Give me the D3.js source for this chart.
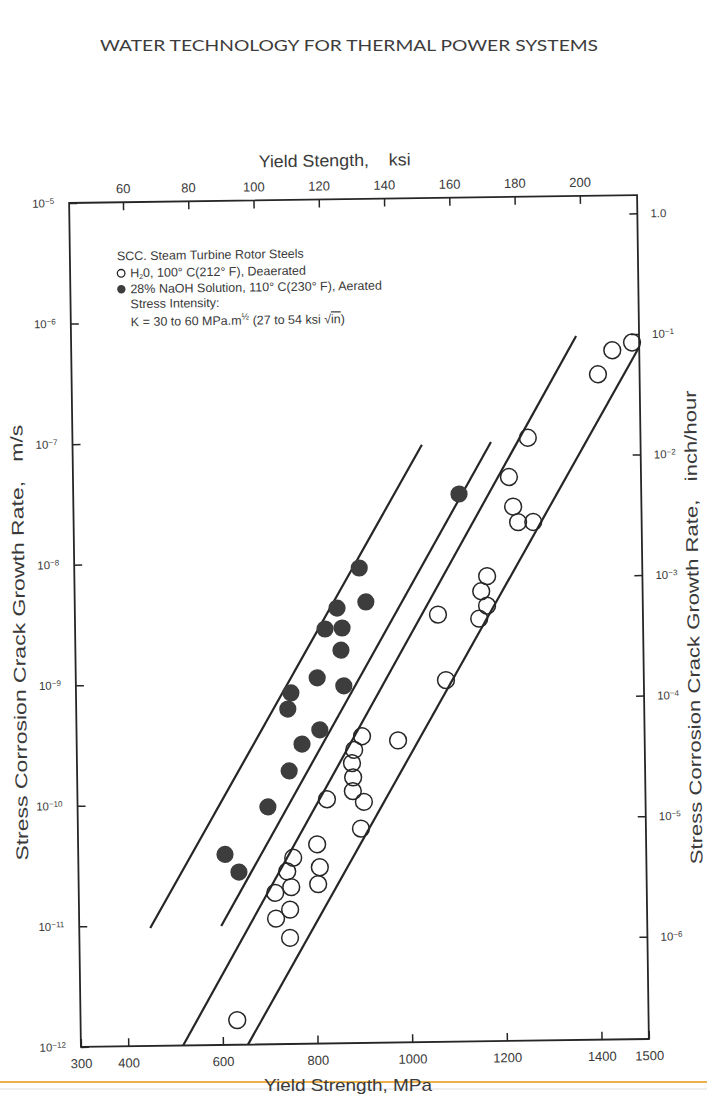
<!DOCTYPE html>
<html>
<head>
<meta charset="utf-8">
<script src="https://cdn.jsdelivr.net/npm/d3@7"></script>
<style>
  body { margin: 0; background: #fff; }
  svg { display: block; }
</style>
</head>
<body>
<svg id="chart" width="707" height="1097"></svg>
<script>
// H2O, 100 C, deaerated (open circles): yield strength MPa / crack growth rate m/s
const h2oStrength = [631, 754, 741, 810, 749, 715, 806, 746, 716, 745, 805, 827, 903, 979, 886, 881, 883, 882, 905, 898,
                     1067, 1082, 1172, 1159, 1171, 1154, 1221, 1229, 1239, 1271, 1262, 1412, 1443, 1485]
const h2oRate = [1.6e-12, 3.5e-11, 2.7e-11, 2.9e-11, 2.0e-11, 1.8e-11, 2.1e-11, 1.3e-11, 1.1e-11, 7.6e-12, 4.5e-11, 1.06e-10,
                 3.5e-10, 3.2e-10, 2.7e-10, 2.1e-10, 1.6e-10, 1.23e-10, 1.0e-10, 6.0e-11,
                 3.5e-9, 1.0e-9, 7.2e-9, 5.4e-9, 4.1e-9, 3.2e-9, 4.75e-8, 2.7e-8, 2.0e-8, 2.0e-8, 1.0e-7, 3.3e-7, 5.2e-7, 6.0e-7]

// 28% NaOH, 110 C, aerated (filled circles)
const naohStrength = [610, 639, 702, 748, 776, 814, 747, 754, 810, 866, 861, 828, 864, 854, 915, 902, 1115]
const naohRate = [3.8e-11, 2.7e-11, 9.3e-11, 1.84e-10, 3.06e-10, 4.0e-10, 6.0e-10, 8.15e-10, 1.08e-9, 9.2e-10,
                  1.82e-9, 2.74e-9, 2.78e-9, 4.07e-9, 4.54e-9, 8.7e-9, 3.48e-8]

// the four band lines, [start, end]
const bandStrength = [[450, 1038], [600, 1184], [516, 1367], [653, 1500]]
const bandRate = [[9.5e-12, 9e-8], [9.7e-12, 9.3e-8], [1e-12, 6.9e-7], [1e-12, 5.5e-7]]

const mpaTicks = [300, 400, 600, 800, 1000, 1200, 1400, 1500]
const ksiTicks = [60, 80, 100, 120, 140, 160, 180, 200]
const rateTicks = [1e-5, 1e-6, 1e-7, 1e-8, 1e-9, 1e-10, 1e-11, 1e-12]
const inchTicks = [1, 1e-1, 1e-2, 1e-3, 1e-4, 1e-5, 1e-6]

const MPA_PER_KSI = 6.895
const INCH_HR_PER_M_S = 141732

const plotL = 75, plotR = 643, plotT = 199, plotB = 1043
const ink = '#262626'
const textCol = '#3a3a3a'

const svg = d3.select('#chart')

// page header
svg.append('text')
    .attr('x', 349).attr('y', 51)
    .attr('text-anchor', 'middle')
    .attr('textLength', 498).attr('lengthAdjust', 'spacingAndGlyphs')
    .style('font', '16px Lato, "DejaVu Sans", sans-serif')
    .attr('fill', '#3c3c3c')
    .text('WATER TECHNOLOGY FOR THERMAL POWER SYSTEMS')

// the scanned figure is a little tilted
const g = svg.append('g').attr('transform', 'rotate(-0.8, 359, 621)')

const x = d3.scaleLinear().domain([300, 1500]).range([plotL, plotR])
const y = d3.scaleLog().domain([1e-5, 1e-12]).range([plotT, plotB])
const xKsi = d3.scaleLinear().domain([300 / MPA_PER_KSI, 1500 / MPA_PER_KSI]).range([plotL, plotR])
const yIn = d3.scaleLog().domain([1e-5 * INCH_HR_PER_M_S, 1e-12 * INCH_HR_PER_M_S]).range([plotT, plotB])

function powLabel(d) {
    const t = d3.select(this)
    if (d === 1) { t.text('1.0'); return }
    const e = Math.round(Math.log10(d))
    t.text('10')
    t.append('tspan').attr('dy', '-0.45em').style('font-size', '0.7em').text('\u2212' + Math.abs(e))
}

function styleAxis(sel, size) {
    sel.select('.domain').remove()
    sel.selectAll('.tick line').attr('stroke', ink).attr('stroke-width', 1.5)
    sel.selectAll('.tick text').attr('fill', textCol)
        .style('font-family', '"Liberation Sans", Arial, sans-serif').style('font-size', size + 'px')
}

const bottomAxis = g.append('g').attr('transform', `translate(0,${plotB})`)
    .call(d3.axisBottom(x).tickValues(mpaTicks).tickSizeInner(-8).tickSizeOuter(0).tickPadding(12).tickFormat(d3.format('d')))
styleAxis(bottomAxis, 13)

const topAxis = g.append('g').attr('transform', `translate(0,${plotT})`)
    .call(d3.axisTop(xKsi).tickValues(ksiTicks).tickSizeInner(-8).tickSizeOuter(0).tickPadding(9).tickFormat(d3.format('d')))
styleAxis(topAxis, 13)

const leftAxis = g.append('g').attr('transform', `translate(${plotL},0)`)
    .call(d3.axisLeft(y).tickValues(rateTicks).tickSizeInner(-8).tickSizeOuter(0).tickPadding(15))
styleAxis(leftAxis, 11.5)
leftAxis.selectAll('.tick text').text(null).each(powLabel)

const rightAxis = g.append('g').attr('transform', `translate(${plotR},0)`)
    .call(d3.axisRight(yIn).tickValues(inchTicks).tickSizeInner(-8).tickSizeOuter(0).tickPadding(13))
styleAxis(rightAxis, 11.5)
rightAxis.selectAll('.tick text').text(null).each(powLabel)

// frame
g.append('rect')
    .attr('x', plotL).attr('y', plotT)
    .attr('width', plotR - plotL).attr('height', plotB - plotT)
    .attr('fill', 'none').attr('stroke', ink).attr('stroke-width', 1.8)

// axis titles
const titleFont = '17px "Liberation Sans", Arial, sans-serif'
g.append('text')
    .attr('transform', 'translate(25,638) rotate(-90)')
    .attr('text-anchor', 'middle')
    .attr('textLength', 436).attr('lengthAdjust', 'spacingAndGlyphs')
    .style('font', titleFont).attr('fill', textCol).attr('xml:space', 'preserve')
    .text('Stress Corrosion Crack Growth Rate,   m/s')
g.append('text')
    .attr('transform', 'translate(699,632) rotate(-90)')
    .attr('text-anchor', 'middle')
    .attr('textLength', 474).attr('lengthAdjust', 'spacingAndGlyphs')
    .style('font', titleFont).attr('fill', textCol).attr('xml:space', 'preserve')
    .text('Stress Corrosion Crack Growth Rate,   inch/hour')
g.append('text')
    .attr('x', 341).attr('y', 166)
    .attr('text-anchor', 'middle')
    .attr('textLength', 152).attr('lengthAdjust', 'spacingAndGlyphs')
    .style('font', titleFont).attr('fill', textCol).attr('xml:space', 'preserve')
    .text('Yield Stength,    ksi')

// band lines
const bands = bandStrength.map((s, i) => s.map((v, j) => [v, bandRate[i][j]]))
const line = d3.line().x(d => x(d[0])).y(d => y(d[1]))
g.append('g').selectAll('path')
    .data(bands)
    .enter().append('path')
    .attr('d', line)
    .attr('fill', 'none').attr('stroke', ink).attr('stroke-width', 2.2)

// points
g.append('g').selectAll('circle')
    .data(naohStrength.map((s, i) => [s, naohRate[i]]))
    .enter().append('circle')
    .attr('cx', d => x(d[0])).attr('cy', d => y(d[1])).attr('r', 8.6)
    .attr('fill', '#3d3d3d')

g.append('g').selectAll('circle')
    .data(h2oStrength.map((s, i) => [s, h2oRate[i]]))
    .enter().append('circle')
    .attr('cx', d => x(d[0])).attr('cy', d => y(d[1])).attr('r', 8.4)
    .attr('fill', 'none').attr('stroke', ink).attr('stroke-width', 1.5)

// legend
const legend = g.append('g').attr('transform', 'translate(122,0)')
    .style('font', '12.5px "Liberation Sans", Arial, sans-serif').attr('fill', textCol)
legend.append('text').attr('x', 0).attr('y', 257).text('SCC. Steam Turbine Rotor Steels')
legend.append('circle').attr('cx', 4).attr('cy', 270).attr('r', 3.8)
    .attr('fill', 'none').attr('stroke', ink).attr('stroke-width', 1.3)
const l1 = legend.append('text').attr('x', 13).attr('y', 274)
l1.append('tspan').text('H')
l1.append('tspan').style('baseline-shift', '-2px').style('font-size', '7px').text('2')
l1.append('tspan').text('0, 100\u00b0 C(212\u00b0 F), Deaerated')
legend.append('circle').attr('cx', 4).attr('cy', 286).attr('r', 4.2).attr('fill', '#3d3d3d')
legend.append('text').attr('x', 13).attr('y', 290).text('28% NaOH Solution, 110\u00b0 C(230\u00b0 F), Aerated')
legend.append('text').attr('x', 13).attr('y', 305).text('Stress Intensity:')
const l4 = legend.append('text').attr('x', 13).attr('y', 323)
l4.append('tspan').text('K = 30 to 60 MPa.m')
l4.append('tspan').style('baseline-shift', '5px').style('font-size', '9px').text('\u00bd')
l4.append('tspan').text(' (27 to 54 ksi \u221a')
l4.append('tspan').style('text-decoration', 'overline').text('in')
l4.append('tspan').text(')')

// bottom of page: rule and axis title
svg.append('line').attr('x1', 0).attr('x2', 707).attr('y1', 1082).attr('y2', 1082)
    .attr('stroke', '#eeb04a').attr('stroke-width', 2)
svg.append('line').attr('x1', 0).attr('x2', 707).attr('y1', 1089).attr('y2', 1089)
    .attr('stroke', '#dcdcdc').attr('stroke-width', 1)
svg.append('text')
    .attr('x', 348).attr('y', 1091)
    .attr('text-anchor', 'middle')
    .attr('textLength', 168).attr('lengthAdjust', 'spacingAndGlyphs')
    .style('font', titleFont).attr('fill', textCol)
    .text('Yield Strength, MPa')
</script>
</body>
</html>
